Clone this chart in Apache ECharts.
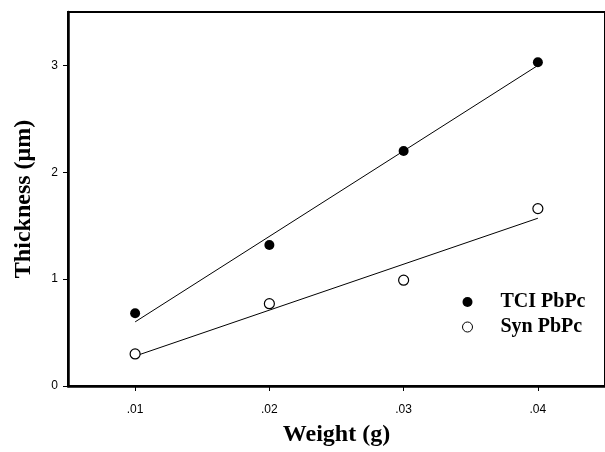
<!DOCTYPE html>
<html>
<head>
<meta charset="utf-8">
<script src="https://cdn.jsdelivr.net/npm/echarts@6/dist/echarts.min.js"></script>
<style>
  html, body { margin: 0; padding: 0; background: #fff; }
  #chart { width: 605px; height: 452px; }
</style>
</head>
<body>
<div id="chart"></div>
<script>
// weights (g)
var weights = [0.01, 0.02, 0.03, 0.04];
// measured thickness (um)
var tciThick = [0.68, 1.32, 2.20, 3.03];
var synThick = [0.30, 0.77, 0.99, 1.66];
// fitted lines, endpoints
var tciFit = [[0.01, 0.60], [0.04, 3.00]];
var synFit = [[0.01, 0.28], [0.04, 1.57]];
// tick positions
var xTicks = [0.01, 0.02, 0.03, 0.04];
var yTicks = [0, 1, 2, 3];

function pairs(xs, ys) {
    return xs.map(function (x, i) { return [x, ys[i]]; });
}

var myChart = echarts.init(document.getElementById('chart'));

var option = {
    backgroundColor: '#fff',
    animation: false,
    grid: {
        left: 68,
        top: 12,
        right: -3,
        bottom: 59,
        show: true,
        borderColor: '#000',
        borderWidth: 2
    },
    legend: {
        orient: 'vertical',
        left: 457,
        top: 287,
        itemWidth: 10,
        itemHeight: 10,
        itemGap: 5,
        textStyle: {
            fontFamily: 'Liberation Serif',
            fontWeight: 'bold',
            fontSize: 20,
            lineHeight: 20,
            color: '#000',
            padding: [0, 0, 0, 23]
        },
        data: [
            { name: 'TCI PbPc', icon: 'circle', itemStyle: { color: '#000' } },
            { name: 'Syn PbPc', icon: 'circle', itemStyle: { color: '#fff', borderColor: '#000', borderWidth: 1 } }
        ]
    },
    xAxis: {
        type: 'value',
        min: 0.005,
        max: 0.045,
        name: 'Weight (g)',
        nameLocation: 'middle',
        nameGap: 37,
        nameTextStyle: {
            fontFamily: 'Liberation Serif',
            fontWeight: 'bold',
            fontSize: 24,
            color: '#000'
        },
        axisLine: { onZero: false, lineStyle: { color: '#000', width: 2.5 } },
        axisTick: { show: true, length: 5, customValues: xTicks, lineStyle: { color: '#000' } },
        axisLabel: {
            customValues: xTicks,
            margin: 18,
            fontFamily: 'Liberation Sans',
            fontSize: 12,
            color: '#000',
            formatter: function (v) { return String(v).replace(/^0/, ''); }
        },
        splitLine: { show: false }
    },
    yAxis: {
        type: 'value',
        min: 0,
        max: 3.5,
        name: 'Thickness (\u03bcm)',
        nameLocation: 'middle',
        nameGap: 32,
        nameTextStyle: {
            fontFamily: 'Liberation Serif',
            fontWeight: 'bold',
            fontSize: 24,
            color: '#000'
        },
        axisLine: { onZero: false, lineStyle: { color: '#000', width: 2.5 } },
        axisTick: { show: true, length: 5, customValues: yTicks, lineStyle: { color: '#000' } },
        axisLabel: {
            customValues: yTicks,
            margin: 10,
            fontFamily: 'Liberation Sans',
            fontSize: 12,
            color: '#000'
        },
        splitLine: { show: false }
    },
    series: [
        {
            name: 'TCI fit',
            type: 'line',
            data: tciFit,
            symbol: 'none',
            lineStyle: { color: '#000', width: 1 },
            z: 1
        },
        {
            name: 'Syn fit',
            type: 'line',
            data: synFit,
            symbol: 'none',
            lineStyle: { color: '#000', width: 1 },
            z: 1
        },
        {
            name: 'TCI PbPc',
            type: 'scatter',
            data: pairs(weights, tciThick),
            symbol: 'circle',
            symbolSize: 10,
            itemStyle: { color: '#000', opacity: 1 },
            z: 3
        },
        {
            name: 'Syn PbPc',
            type: 'scatter',
            data: pairs(weights, synThick),
            symbol: 'circle',
            symbolSize: 10,
            itemStyle: { color: '#fff', borderColor: '#000', borderWidth: 1.2, opacity: 1 },
            z: 3
        }
    ]
};

myChart.setOption(option);
</script>
</body>
</html>
